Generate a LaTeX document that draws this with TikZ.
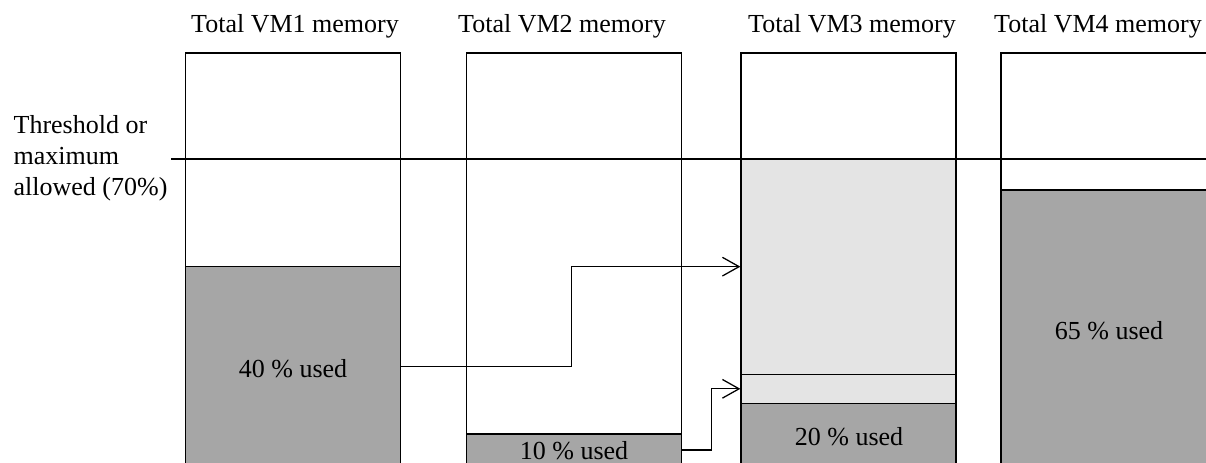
\documentclass[tikz,border=0pt]{standalone}
\usepackage{fontspec}
\setmainfont{Liberation Serif}
\usetikzlibrary{arrows.meta,fit}
\definecolor{usedgray}{RGB}{166,166,166}
\definecolor{freegray}{RGB}{228,228,228}
\begin{document}
\begin{tikzpicture}[x=0.75pt,y=-0.75pt,
  line width=0.95pt,
  every node/.style={font=\fontsize{19.5}{23}\selectfont, inner sep=0pt},
  frame/.style={draw=black, fill=white, inner sep=0pt},
  usedbox/.style={draw=black, fill=usedgray, inner sep=0pt},
  freebox/.style={draw=black, fill=freegray, inner sep=0pt},
  title/.style={anchor=base},
  usedlabel/.style={anchor=base},
  move/.style={draw=black, line width=0.95pt, -{Straight Barb[length=12.5pt,width=14pt]}}
]
% page area; the memory boxes run on past the lower edge
\clip (0,0) rectangle (1206,463);

% memory boxes
\node[frame, fit={(185.5,53) (400.5,475)}] (vm1) {};
\node[frame, fit={(466.5,53) (681.5,475)}] (vm2) {};
\node[frame, fit={(741,53) (956,475)}] (vm3) {};
\node[frame, fit={(1001,53) (1216,475)}] (vm4) {};

% used and reserved parts
\node[usedbox, fit={(185.5,266.7) (400.5,466)}] (u1) {};
\node[usedbox, fit={(466.5,434) (681.5,466)}] (u2) {};
\node[freebox, fit={(741,159) (956,374.3)}] (r3a) {};
\node[freebox, fit={(741,374.3) (956,403.3)}] (r3b) {};
\node[usedbox, fit={(741,403.3) (956,475)}] (u3) {};
\node[usedbox, fit={(1001,190) (1216,475)}] (u4) {};

\node[usedlabel] (l1) at (293,377) {40 \% used};
\node[usedlabel] (l2) at (574,459) {10 \% used};
\node[usedlabel] (l3) at (849,445) {20 \% used};
\node[usedlabel] (l4) at (1109,339) {65 \% used};

% titles
\node[title] (t1) at (295,33) {Total VM1 memory};
\node[title] (t2) at (562,33) {Total VM2 memory};
\node[title] (t3) at (852,33) {Total VM3 memory};
\node[title] (t4) at (1098,33) {Total VM4 memory};

% threshold line and its label
\coordinate (thL) at (171,159);
\coordinate (thR) at (1210,159);
\draw (thL) -- (thR);
\node[anchor=base west] (th1) at (13,134) {Threshold or};
\node[anchor=base west] (th2) at (13,165) {maximum};
\node[anchor=base west] (th3) at (13,196) {allowed (70\%)};

% moves into the reserved space of VM3
\draw[move] (u1.east) -- ++(170,0) |- (r3a.west);
\draw[move] (u2.east) -- ++(29,0) |- (r3b.west);
\end{tikzpicture}
\end{document}
